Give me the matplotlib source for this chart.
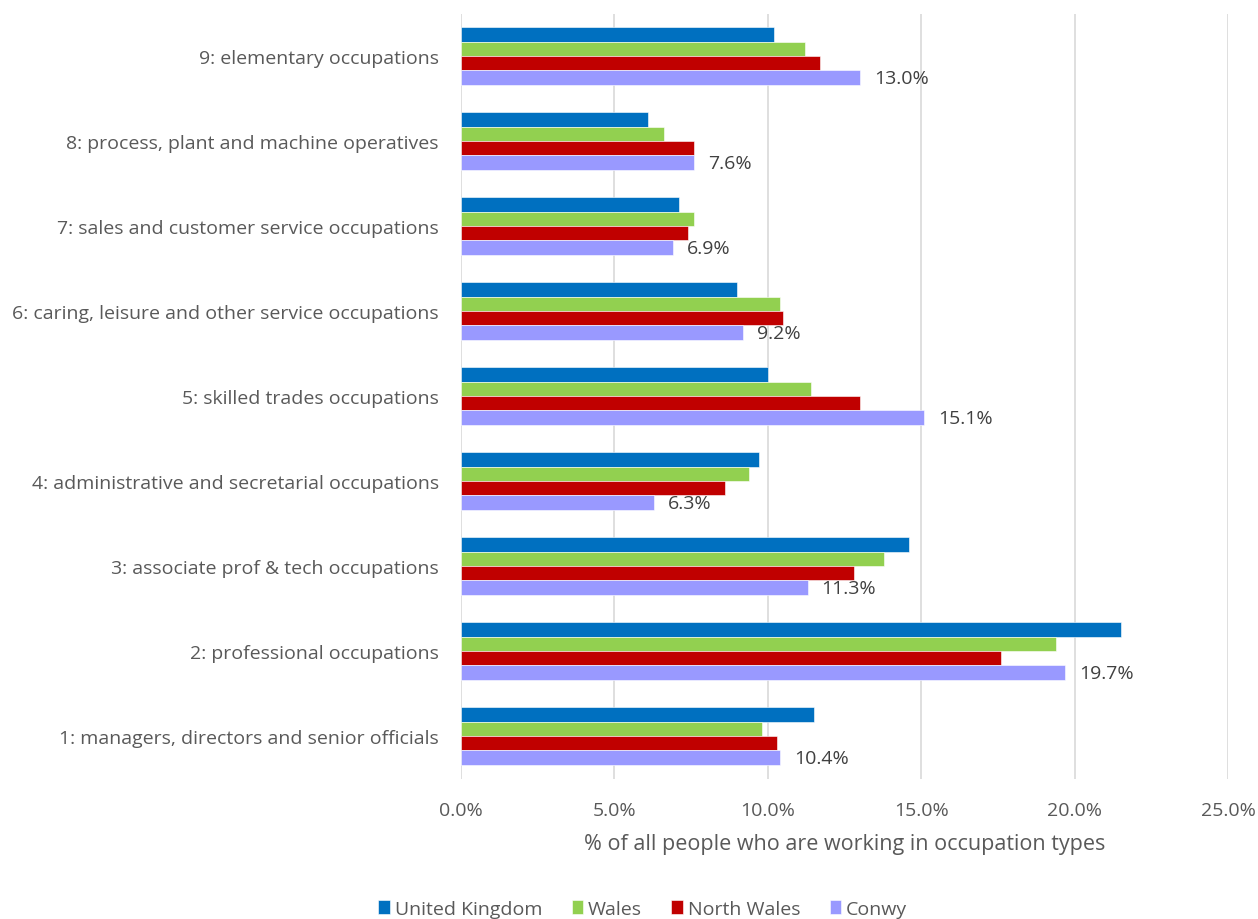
import numpy as np
import matplotlib.pyplot as plt
from matplotlib.ticker import FuncFormatter

categories = [
    "1: managers, directors and senior officials",
    "2: professional occupations",
    "3: associate prof & tech occupations",
    "4: administrative and secretarial occupations",
    "5: skilled trades occupations",
    "6: caring, leisure and other service occupations",
    "7: sales and customer service occupations",
    "8: process, plant and machine operatives",
    "9: elementary occupations",
]
series_names = ["United Kingdom", "Wales", "North Wales", "Conwy"]
uk = [11.5, 21.5, 14.6, 9.7, 10.0, 9.0, 7.1, 6.1, 10.2]
wales = [9.8, 19.4, 13.8, 9.4, 11.4, 10.4, 7.6, 6.6, 11.2]
north_wales = [10.3, 17.6, 12.8, 8.6, 13.0, 10.5, 7.4, 7.6, 11.7]
conwy = [10.4, 19.7, 11.3, 6.3, 15.1, 9.2, 6.9, 7.6, 13.0]
colors = ["#0070C0", "#92D050", "#C00000", "#9999FF"]

plt.rcParams['font.family'] = ['Open Sans', 'DejaVu Sans']
text_col = "#595959"

fig = plt.figure(figsize=(12.58, 9.20), dpi=100)
ax = fig.add_axes([0.3665, 0.1527, 0.6097, 0.8315])

y = np.arange(len(categories))
h = 0.17
data = [uk, wales, north_wales, conwy]
for i, (vals, name, c) in enumerate(zip(data, series_names, colors)):
    offs = (1.5 - i) * h
    bars = ax.barh(y + offs, vals, height=h, color=c, label=name,
                   edgecolor="white", linewidth=0.4, zorder=3)
    if name == "Conwy":
        for b, v in zip(bars, vals):
            ax.text(v + 0.45, b.get_y() + b.get_height() / 2, f"{v:.1f}%",
                    va="center", ha="left", fontsize=14, color="#404040")

ax.set_xlim(0, 25)
ax.set_ylim(-0.5, len(categories) - 0.5)
ax.set_xticks(np.arange(0, 26, 5))
ax.xaxis.set_major_formatter(FuncFormatter(lambda v, p: f"{v:.1f}%"))
ax.set_yticks(y)
ax.set_yticklabels(categories)
ax.grid(axis="x", color="#d9d9d9", linewidth=1.2, zorder=0)
ax.grid(axis="y", visible=False)
for s in ax.spines.values():
    s.set_visible(False)
ax.tick_params(axis="x", length=0, pad=16, labelsize=14, labelcolor=text_col)
ax.tick_params(axis="y", length=0, pad=16, labelsize=14, labelcolor=text_col)
ax.set_xlabel("% of all people who are working in occupation types",
              fontsize=15.5, color=text_col, labelpad=10)

ax.legend(loc="center", bbox_to_anchor=(0.511, 0.011),
          bbox_transform=fig.transFigure, ncol=4, frameon=False,
          fontsize=14, handlelength=0.6, handleheight=0.75, handletextpad=0.25,
          columnspacing=1.5, labelcolor=text_col)

fig.savefig("out.png", dpi=100)
